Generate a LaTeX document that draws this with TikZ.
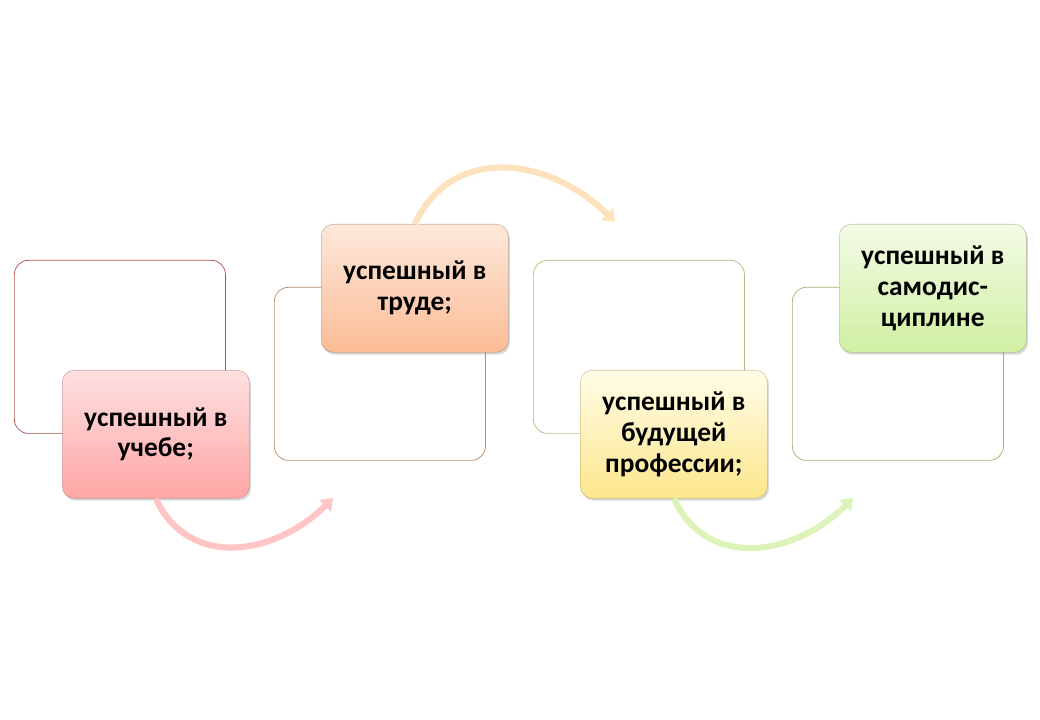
\documentclass[tikz,border=0pt]{standalone}
\usepackage{fontspec}
\setmainfont{Carlito}
\usetikzlibrary{arrows.meta,shadows}
\definecolor{pink_top}{RGB}{253,224,224}
\definecolor{pink_bottom}{RGB}{255,166,166}
\definecolor{pink_line}{RGB}{170,80,80}
\definecolor{peach_top}{RGB}{253,232,218}
\definecolor{peach_bottom}{RGB}{251,188,150}
\definecolor{peach_line}{RGB}{185,140,105}
\definecolor{yellow_top}{RGB}{255,253,232}
\definecolor{yellow_bottom}{RGB}{252,230,140}
\definecolor{olive_line}{RGB}{185,185,125}
\definecolor{green_top}{RGB}{243,251,230}
\definecolor{green_bottom}{RGB}{208,240,162}
\definecolor{green_line}{RGB}{170,175,105}

\begin{document}
\begin{tikzpicture}[
      x=0.025cm, y=0.025cm,
      outline_box/.style={
         rectangle,
         rounded corners=3.5mm,
         draw=#1,
         fill=white,
         line width=0.5pt,
         anchor=north west,
         minimum width=5.275cm,
         minimum height=4.325cm},
      fill_box/.style 2 args={
         rectangle,
         rounded corners=3mm,
         top color=#1,
         bottom color=#2,
         draw=#2!70!black,
         draw opacity=0.6,
         line width=0.4pt,
         drop shadow={opacity=0.3, shadow xshift=0.4mm, shadow yshift=-0.6mm},
         anchor=north west,
         minimum width=4.675cm,
         minimum height=3.2cm,
         align=center,
         font=\bfseries\fontsize{19.5}{22}\selectfont},
      curve_arrow/.style={
         -{Triangle[length=2.8mm,width=4mm]},
         line width=4.4pt,
         draw=#1},
      ]
      \useasboundingbox (0,0) rectangle (1040,720);

      % outline boxes
      \node[outline_box=pink_line] (o1) at (14,460) {};
      \node[outline_box=peach_line] (o2) at (274,433) {};
      \node[outline_box=olive_line] (o3) at (533,460) {};
      \node[outline_box=green_line] (o4) at (792,433) {};

      % filled boxes
      \node[fill_box={pink_top}{pink_bottom}] (b1) at (62,350) {успешный в\\учебе;};
      \node[fill_box={peach_top}{peach_bottom}] (b2) at (321,496) {успешный в\\труде;};
      \node[fill_box={yellow_top}{yellow_bottom}] (b3) at (580,350) {успешный в\\будущей\\профессии;};
      \node[fill_box={green_top}{green_bottom}] (b4) at (839,496) {успешный в\\самодис-\\циплине};

      % arrow ends
      \coordinate (e1) at (333,222);
      \coordinate (e2) at (615,498);
      \coordinate (e3) at (853,222);

      \draw[curve_arrow={pink_bottom!65}] (b1.south) to[out=-65,in=-135,looseness=1.15] (e1);
      \draw[curve_arrow={peach_bottom!50!yellow_bottom!60}] (b2.north) to[out=65,in=135,looseness=1.15] (e2);
      \draw[curve_arrow={green_bottom!75}] (b3.south) to[out=-65,in=-135,looseness=1.15] (e3);
\end{tikzpicture}
\end{document}
